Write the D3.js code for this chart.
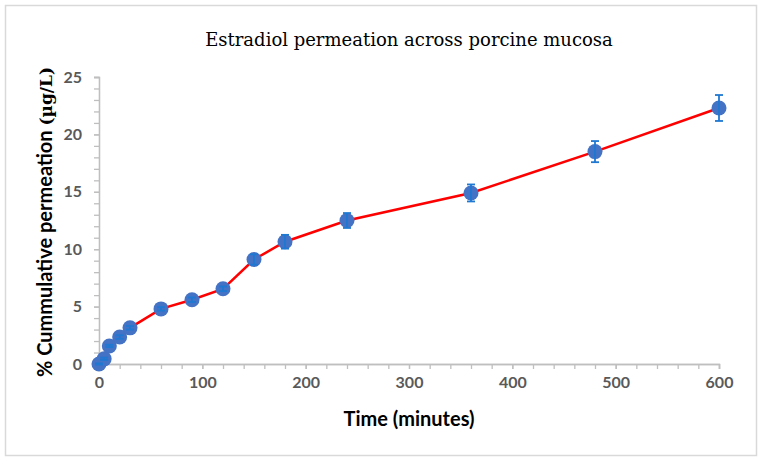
<!DOCTYPE html>
<html>
<head>
<meta charset="utf-8">
<script src="https://cdn.jsdelivr.net/npm/d3@7"></script>
<style>
  body { margin: 0; background: #fff; }
  svg { display: block; }
</style>
</head>
<body>
<div class="chart"></div>
<script>
  // values
  var times = [0, 5, 10, 20, 30, 60, 90, 120, 150, 180, 240, 360, 480, 600];
  var means = [0, 0.45, 1.57, 2.35, 3.15, 4.8, 5.6, 6.55, 9.1, 10.65, 12.5, 14.9, 18.5, 22.3];
  var errors = [0.05, 0.1, 0.1, 0.15, 0.15, 0.15, 0.2, 0.2, 0.45, 0.6, 0.65, 0.74, 0.92, 1.13];
  var xTicks = [0, 100, 200, 300, 400, 500, 600];
  var yTicks = [0, 5, 10, 15, 20, 25];

  var titleText = "Estradiol permeation across porcine mucosa",
      xTitle = "Time (minutes)",
      yTitleSans = "% Cummulative permeation ",
      yTitleSerif = "(µg/L)";

  var W = 762, H = 464,
      margin = {top: 77, right: 43, bottom: 100, left: 99};

  var width = W - margin.left - margin.right,
      height = H - margin.top - margin.bottom;

  var data = times.map(function(t, i) {
    return {t: t, v: means[i], e: errors[i]};
  });

  var xScale = d3.scaleLinear().domain([0, 600]).range([0, width]);
  var yScale = d3.scaleLinear().domain([0, 25]).range([height, 0]);

  var svg = d3.select('.chart')
      .append("svg")
      .attr("width", W)
      .attr("height", H);

  // chart area border
  svg.append("rect")
      .attr("x", 5.5).attr("y", 5.5)
      .attr("width", 751).attr("height", 450)
      .attr("fill", "#fff")
      .attr("stroke", "#d9d9d9")
      .attr("stroke-width", 1.5);

  svg.append("text")
      .attr("x", margin.left + width / 2)
      .attr("y", 46)
      .attr("text-anchor", "middle")
      .attr("font-family", "'DejaVu Serif', serif")
      .attr("font-size", 18)
      .attr("fill", "#000")
      .text(titleText);

  var g = svg.append("g")
      .attr("transform", "translate(" + margin.left + "," + margin.top + ")");

  // minor tick marks (every 20 min / every 1 unit)
  var xAxisMinor = d3.axisBottom(xScale)
      .tickValues(d3.range(0, 601, 20))
      .tickSize(5)
      .tickFormat("");
  var yAxisMinor = d3.axisLeft(yScale)
      .tickValues(d3.range(0, 26, 1))
      .tickSize(5)
      .tickFormat("");

  var xAxis = d3.axisBottom(xScale)
      .tickValues(xTicks)
      .tickSize(5)
      .tickPadding(8);
  var yAxis = d3.axisLeft(yScale)
      .tickValues(yTicks)
      .tickSize(5)
      .tickPadding(12);

  g.append("g")
      .attr("class", "x minor")
      .attr("transform", "translate(0," + height + ")")
      .call(xAxisMinor);
  g.append("g")
      .attr("class", "y minor")
      .call(yAxisMinor);

  var gx = g.append("g")
      .attr("class", "x axis")
      .attr("transform", "translate(0," + height + ")")
      .call(xAxis);
  var gy = g.append("g")
      .attr("class", "y axis")
      .call(yAxis);

  g.selectAll(".domain, .tick line")
      .attr("stroke", "#bfbfbf")
      .attr("stroke-width", 1.3);

  g.selectAll(".axis text")
      .attr("font-family", "Lato, 'Open Sans', sans-serif")
      .attr("font-weight", "bold")
      .attr("font-size", 16)
      .attr("fill", "#595959");

  // series line
  var line = d3.line()
      .x(function(d) { return xScale(d.t); })
      .y(function(d) { return yScale(d.v); });

  g.append("path")
      .datum(data)
      .attr("fill", "none")
      .attr("stroke", "#ff0000")
      .attr("stroke-width", 2.5)
      .attr("d", line);

  // markers
  g.selectAll("circle")
      .data(data)
      .enter().append("circle")
      .attr("cx", function(d) { return xScale(d.t); })
      .attr("cy", function(d) { return yScale(d.v); })
      .attr("r", 7.5)
      .attr("fill", "#4472c4");

  // error bars
  var eb = g.selectAll(".err")
      .data(data)
      .enter().append("g")
      .attr("class", "err")
      .attr("stroke", "#1f78d1")
      .attr("stroke-width", 1.8);

  eb.append("line")
      .attr("x1", function(d) { return xScale(d.t); })
      .attr("x2", function(d) { return xScale(d.t); })
      .attr("y1", function(d) { return yScale(d.v - d.e); })
      .attr("y2", function(d) { return yScale(d.v + d.e); });
  eb.append("line")
      .attr("x1", function(d) { return xScale(d.t) - 4; })
      .attr("x2", function(d) { return xScale(d.t) + 4; })
      .attr("y1", function(d) { return yScale(d.v + d.e); })
      .attr("y2", function(d) { return yScale(d.v + d.e); });
  eb.append("line")
      .attr("x1", function(d) { return xScale(d.t) - 4; })
      .attr("x2", function(d) { return xScale(d.t) + 4; })
      .attr("y1", function(d) { return yScale(d.v - d.e); })
      .attr("y2", function(d) { return yScale(d.v - d.e); });

  // axis titles
  svg.append("text")
      .attr("x", margin.left + width / 2)
      .attr("y", 426)
      .attr("text-anchor", "middle")
      .attr("font-family", "Lato, 'Open Sans', sans-serif")
      .attr("font-weight", "bold")
      .attr("font-size", 20)
      .attr("fill", "#000")
      .text(xTitle);

  var yt = svg.append("text")
      .attr("transform", "translate(52,222) rotate(-90)")
      .attr("text-anchor", "middle")
      .attr("font-weight", "bold")
      .attr("font-size", 20)
      .attr("fill", "#000");
  yt.append("tspan")
      .attr("font-family", "Lato, 'Open Sans', sans-serif")
      .text(yTitleSans);
  yt.append("tspan")
      .attr("font-family", "'DejaVu Serif', serif")
      .attr("font-size", 17)
      .text(yTitleSerif);
</script>
</body>
</html>
